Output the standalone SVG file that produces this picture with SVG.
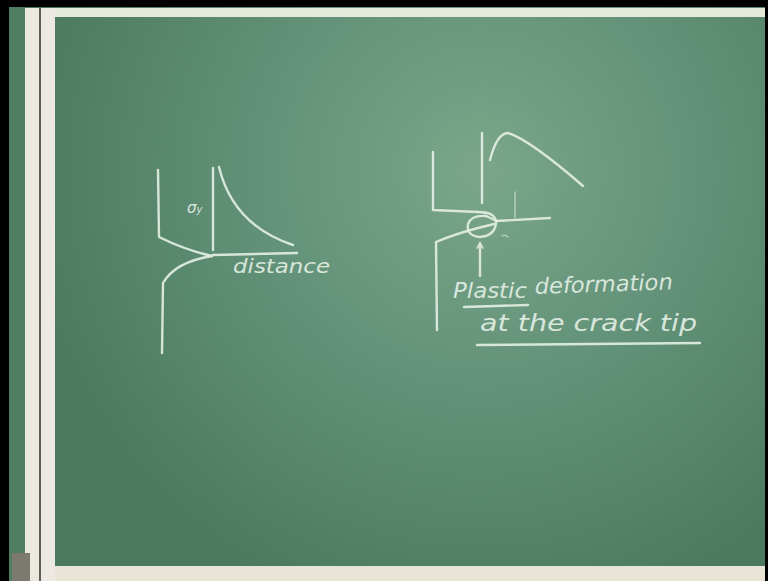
<svg xmlns="http://www.w3.org/2000/svg" width="768" height="581" viewBox="0 0 768 581">
<defs>
<radialGradient id="board" cx="480" cy="170" r="460" gradientUnits="userSpaceOnUse">
<stop offset="0" stop-color="#7ba689"/>
<stop offset="0.45" stop-color="#63937a"/>
<stop offset="1" stop-color="#4b7a5e"/>
</radialGradient>
<marker id="ah" viewBox="0 0 10 10" refX="9" refY="5" markerWidth="8" markerHeight="8" orient="auto" markerUnits="userSpaceOnUse">
<path d="M2,1 L9,5 L2,9" fill="none" stroke="#e3efe4" stroke-width="2"/>
</marker>
</defs>
<style>
.ch{fill:none;stroke:#e2eee3;stroke-width:2.4;stroke-linecap:round;stroke-linejoin:round;opacity:0.92}
.fa{fill:none;stroke:#d6e6d8;stroke-width:1.6;stroke-linecap:round;opacity:0.6}
.tx{fill:#e2eee3;font-family:"DejaVu Sans",sans-serif;font-style:italic;opacity:0.92}
</style>
<rect x="0" y="0" width="768" height="581" fill="#000"/>
<rect x="9" y="7" width="756" height="560" fill="url(#board)"/>
<rect x="9" y="7" width="16" height="574" fill="#4f7d62"/>
<rect x="40" y="8" width="725" height="9" fill="#e6ead8"/>
<rect x="25" y="8" width="14" height="573" fill="#ebe8df"/>
<rect x="39" y="8" width="2" height="573" fill="#5c5e52"/>
<rect x="41" y="8" width="14" height="573" fill="#ede9e2"/>
<rect x="55" y="566" width="710" height="15" fill="#e9e4d6"/>
<rect x="12" y="553" width="18" height="28" fill="#7c7a70"/>
<rect x="765" y="0" width="3" height="581" fill="#000"/>

<g id="left-diagram">
<path class="ch" d="M158,170 L159,237 Q185,250 212,256"/>
<path class="ch" d="M212,256 Q175,262 163,283 L162,353"/>
<path class="ch" d="M213,168 L213,250"/>
<path class="ch" d="M213,255 L297,253"/>
<path class="ch" d="M219,167 Q233,225 293,245"/>
<text class="tx" x="187" y="213" font-size="15">σ<tspan font-size="10">y</tspan></text>
<text class="tx" x="233" y="273" font-size="19" textLength="97" lengthAdjust="spacingAndGlyphs">distance</text>
</g>

<g id="right-diagram">
<path class="ch" d="M433,152 L433,210 L478,212"/>
<path class="ch" d="M482,133 L482,203"/>
<path class="ch" d="M490,160 Q497,133 508,133 Q530,140 583,186"/>
<path class="fa" d="M515,192 L515,218"/>
<path class="ch" d="M496,221 L550,218"/>
<path class="ch" d="M478,212 Q497,212 496,224 Q494,236 480,237 Q466,236 468,224 Q471,215 486,216"/>
<path class="ch" d="M486,216 L497,221"/>
<path class="ch" d="M437,330 L436,242 Q455,234 478,228 L494,224"/>
<path class="ch" d="M480,276 L480,243" marker-end="url(#ah)"/>
<path class="fa" d="M502,236 Q505,234 508,237"/>
</g>

<g id="caption">
<text class="tx" x="453" y="298" font-size="22" textLength="74" lengthAdjust="spacingAndGlyphs">Plastic</text>
<text class="tx" x="535" y="294" font-size="22" textLength="138" lengthAdjust="spacingAndGlyphs" transform="rotate(-2 535 294)">deformation</text>
<path class="ch" d="M464,307 L528,305"/>
<text class="tx" x="480" y="331" font-size="23" textLength="217" lengthAdjust="spacingAndGlyphs">at the crack tip</text>
<path class="ch" d="M477,345 L700,343"/>
</g>
</svg>
